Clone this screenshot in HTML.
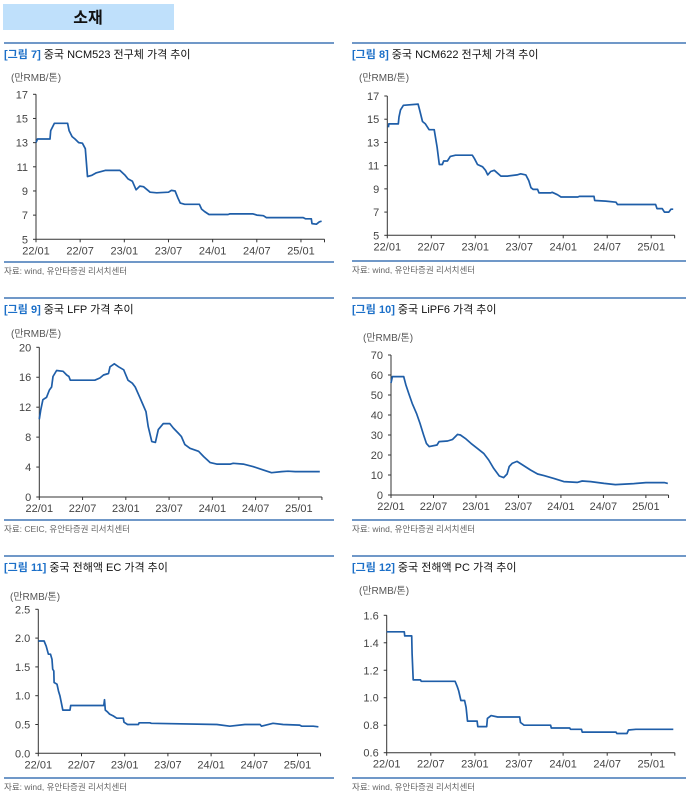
<!DOCTYPE html>
<html><head><meta charset="utf-8">
<style>
body{margin:0;background:#fff;width:688px;height:796px;overflow:hidden;font-family:"Liberation Sans","Noto Sans CJK KR",sans-serif;}
svg text{font-family:"Liberation Sans","Noto Sans CJK KR",sans-serif;}
</style></head>
<body>
<svg id="page" width="688" height="796" viewBox="0 0 688 796" xmlns="http://www.w3.org/2000/svg">
<rect x="3" y="4" width="171" height="26" fill="#bfe0fb"/>
<text x="88" y="23" text-anchor="middle" font-size="16" font-weight="bold" fill="#111">소재</text>
</svg>
<script>
const c1Months=[0,0.2,1.9,2.0,2.5,4.3,4.5,4.9,5.3,5.8,6.3,6.7,7.0,7.6,8.2,9.4,11.4,12.1,12.5,13.1,13.6,14.1,14.6,15.5,16.4,18.0,18.4,18.9,19.3,19.6,20.2,22.2,22.5,22.9,23.5,26.1,26.3,29.5,30,30.9,31.3,36.3,36.6,37.4,37.5,38.1,38.5,38.8];
const c1Values=[13.0,13.3,13.3,14.0,14.6,14.6,14.0,13.5,13.3,13.0,12.95,12.5,10.2,10.3,10.5,10.7,10.7,10.3,10.0,9.8,9.1,9.4,9.35,8.9,8.85,8.9,9.05,9.0,8.4,8.0,7.9,7.9,7.5,7.3,7.05,7.05,7.1,7.1,7.0,6.95,6.8,6.8,6.7,6.7,6.3,6.25,6.45,6.5];
const c2Months=[0.15,0.2,1.5,1.6,1.8,2.2,4.2,4.4,4.8,5.2,5.7,6.4,6.8,7.1,7.5,7.7,8.2,8.6,9.3,11.6,11.9,12.3,13.0,13.4,13.7,14.1,14.6,15.5,16.4,17.7,18.2,18.9,19.3,19.6,19.9,20.5,20.7,22.3,22.5,23.2,23.7,26.0,26.2,28.2,28.3,29.8,31.2,31.4,36.6,36.8,37.5,37.8,38.4,38.7,39.0];
const c2Values=[14.3,14.6,14.6,15.2,15.8,16.2,16.3,15.8,14.8,14.6,14.1,14.1,12.6,11.1,11.1,11.4,11.4,11.8,11.9,11.9,11.6,11.1,10.9,10.6,10.2,10.5,10.6,10.1,10.1,10.2,10.3,10.2,9.7,9.1,8.95,8.95,8.65,8.65,8.7,8.5,8.3,8.3,8.35,8.35,8.0,7.95,7.85,7.65,7.65,7.3,7.3,7.0,7.0,7.25,7.25];
const c3Months=[0,0.2,0.5,1.0,1.4,1.7,1.9,2.4,3.3,3.8,4.1,4.3,7.7,8.4,8.9,9.6,9.8,10.4,11.0,11.7,12.3,12.9,13.3,13.9,14.3,14.8,15.1,15.6,16.1,16.5,17.2,18.1,18.6,19.3,19.7,20.2,20.9,22.1,22.8,23.7,24.6,26.5,26.9,28.3,29.7,31.1,32.2,33.6,34.5,35.5,38.9];
const c3Values=[10.4,11.6,13.0,13.3,14.3,14.7,16.1,16.9,16.8,16.3,16.1,15.6,15.6,15.9,16.3,16.5,17.4,17.8,17.4,17.0,15.6,15.2,14.7,13.4,12.5,11.4,9.4,7.4,7.3,9.0,9.8,9.8,9.2,8.5,8.1,7.0,6.5,6.1,5.4,4.6,4.4,4.4,4.5,4.4,4.05,3.6,3.25,3.4,3.45,3.4,3.4];
const c4Months=[0,0.2,1.8,2.1,2.5,3.0,3.6,4.1,4.6,5.0,5.4,6.5,6.8,8.0,8.7,9.4,9.8,10.5,11.3,12.2,13.1,13.8,14.5,15.3,15.9,16.4,16.7,17.1,17.8,18.6,19.7,20.7,21.6,23.0,24.4,26.3,27.0,28.2,30.1,31.7,34.3,36.0,38.6,39.1];
const c4Values=[56,59.2,59.2,55,50.8,45.8,40.8,35.8,30,25.8,24.2,25,26.7,27,27.8,30.3,30,28.3,25.8,23.3,20.8,17.5,13.3,9.5,8.7,10.5,14.2,15.8,16.8,15,12.5,10.5,9.7,8.3,6.7,6.3,7.0,6.7,5.8,5.2,5.7,6.2,6.2,5.8];
const c5Months=[0,0.8,1.1,1.4,1.7,1.9,2.0,2.15,2.2,2.6,2.8,3.0,3.2,3.4,4.4,4.5,9.1,9.2,9.3,9.6,9.9,10.4,10.9,11.8,11.9,12.4,13.9,14.0,15.5,15.7,24.8,26.6,28.7,30.8,31.0,32.6,34.0,36.3,36.6,38.2,38.9];
const c5Values=[1.95,1.95,1.86,1.72,1.72,1.63,1.46,1.43,1.23,1.2,1.08,1.0,0.88,0.75,0.75,0.83,0.83,0.93,0.75,0.72,0.68,0.65,0.61,0.61,0.54,0.5,0.5,0.53,0.53,0.52,0.5,0.47,0.5,0.5,0.47,0.52,0.5,0.49,0.47,0.47,0.46];
const c6Months=[0,2.4,2.45,3.4,3.45,3.6,4.6,4.7,9.3,9.6,9.8,10.1,10.6,10.8,11.0,12.3,12.4,13.6,13.7,14.2,15.1,18.1,18.2,18.7,22.3,22.4,24.9,25.0,26.5,26.6,31.2,31.3,32.7,32.9,33.9,39.0];
const c6Values=[1.48,1.48,1.45,1.45,1.32,1.13,1.13,1.12,1.12,1.08,1.05,0.98,0.98,0.93,0.83,0.83,0.79,0.79,0.85,0.87,0.86,0.86,0.82,0.8,0.8,0.78,0.78,0.77,0.77,0.75,0.75,0.74,0.74,0.765,0.77,0.77];
const c1Ticks=[5,7,9,11,13,15,17];
const c2Ticks=[5,7,9,11,13,15,17];
const c3Ticks=[0,4,8,12,16,20];
const c4Ticks=[0,10,20,30,40,50,60,70];
const c5Ticks=[0.0,0.5,1.0,1.5,2.0,2.5];
const c6Ticks=[0.6,0.8,1.0,1.2,1.4,1.6];
const xLabels=["22/01","22/07","23/01","23/07","24/01","24/07","25/01"];
const xLabelMonths=[0,6,12,18,24,30,36];

const NS="http://www.w3.org/2000/svg";
const page=document.getElementById('page');
function mk(tag,attrs,parent,text){const e=document.createElementNS(NS,tag);for(const k in attrs)e.setAttribute(k,attrs[k]);if(text!==undefined)e.textContent=text;(parent||page).appendChild(e);return e;}

function panel(cfg){
  const g=mk('g',{});
  
  
  const topRule=mk('line',{x1:cfg.px,x2:cfg.px+cfg.pw,y1:cfg.ruleTop,y2:cfg.ruleTop,stroke:'#1b5aa8','stroke-width':1.3},g);
  
  
  const title=mk('text',{x:cfg.px,y:cfg.titleY,'font-size':11,fill:'#111'},g);
  
  
  mk('tspan',{fill:'#1b6fc8','font-weight':'bold'},title,cfg.fig+' ');
  mk('tspan',{},title,cfg.title);
  const unit=mk('text',{x:cfg.ux,y:cfg.uy,'font-size':10,fill:'#555'},g,'(만RMB/톤)');
  
  
  const ticks=cfg.ticks, ymin=ticks[0], ymax=ticks[ticks.length-1];
  const yS=v=>cfg.yBot-(v-ymin)/(ymax-ymin)*(cfg.yBot-cfg.yTop);
  const xS=m=>cfg.x0+m*cfg.ppm;
  const xEnd=xS(39.2);
  const yax=mk('line',{x1:cfg.x0,x2:cfg.x0,y1:cfg.yTop,y2:cfg.yBot,stroke:'#333','stroke-width':1},g);
  
  
  const xax=mk('line',{x1:cfg.x0,x2:xEnd,y1:cfg.yBot,y2:cfg.yBot,stroke:'#333','stroke-width':1},g);
  
  
  ticks.forEach(t=>{
    mk('line',{x1:cfg.x0-3,x2:cfg.x0,y1:yS(t),y2:yS(t),stroke:'#333'},g);
    const lb=mk('text',{x:cfg.x0-8,y:yS(t)+4,'font-size':11,'text-anchor':'end',fill:'#444'},g,cfg.dec?t.toFixed(cfg.dec):String(t));
    
    
  });
  xLabelMonths.forEach((m,i)=>{
    mk('line',{x1:xS(m),x2:xS(m),y1:cfg.yBot,y2:cfg.yBot+3,stroke:'#333'},g);
    const lb=mk('text',{x:xS(m),y:cfg.yBot+15,'font-size':11,'text-anchor':'middle',fill:'#444'},g,xLabels[i]);
    
    
  });
  mk('line',{x1:xEnd,x2:xEnd,y1:cfg.yBot,y2:cfg.yBot+3,stroke:'#333'},g);
  const d=cfg.months.map((m,i)=>(i?'L':'M')+xS(m).toFixed(1)+' '+yS(cfg.values[i]).toFixed(1)).join(' ');
  const path=mk('path',{d:d,fill:'none',stroke:'#1f5ea8','stroke-width':1.7,'stroke-linejoin':'round'},g);
  
  
  const sr=mk('line',{x1:cfg.px,x2:cfg.px+cfg.pw,y1:cfg.srcRule,y2:cfg.srcRule,stroke:'#1b5aa8','stroke-width':1.3},g);
  
  
  const src=mk('text',{x:cfg.px,y:cfg.srcRule+12,'font-size':8.5,fill:'#666'},g,cfg.src);
  
  
}

panel({name:'chart-ncm523',px:4,pw:330,ruleTop:43,titleY:58,fig:'[그림 7]',title:'중국 NCM523 전구체 가격 추이',ux:11,uy:81,x0:36,ppm:7.36,yTop:94.3,yBot:239.3,ticks:c1Ticks,months:c1Months,values:c1Values,srcRule:262,src:'자료: wind, 유안타증권 리서치센터'});
panel({name:'chart-ncm622',px:352,pw:334,ruleTop:43,titleY:58,fig:'[그림 8]',title:'중국 NCM622 전구체 가격 추이',ux:359,uy:81,x0:387.3,ppm:7.33,yTop:96,yBot:235.3,ticks:c2Ticks,months:c2Months,values:c2Values,srcRule:261,src:'자료: wind, 유안타증권 리서치센터'});
panel({name:'chart-lfp',px:4,pw:330,ruleTop:298,titleY:313,fig:'[그림 9]',title:'중국 LFP 가격 추이',ux:11,uy:337,x0:39.3,ppm:7.21,yTop:347.3,yBot:497,ticks:c3Ticks,months:c3Months,values:c3Values,srcRule:520,src:'자료: CEIC, 유안타증권 리서치센터'});
panel({name:'chart-lipf6',px:352,pw:334,ruleTop:298,titleY:313,fig:'[그림 10]',title:'중국 LiPF6 가격 추이',ux:363,uy:341,x0:391,ppm:7.08,yTop:355,yBot:495,ticks:c4Ticks,months:c4Months,values:c4Values,srcRule:520,src:'자료: wind, 유안타증권 리서치센터'});
panel({name:'chart-ec',px:4,pw:330,ruleTop:556,titleY:571,fig:'[그림 11]',title:'중국 전해액 EC 가격 추이',ux:10,uy:600,x0:38.3,ppm:7.2,yTop:609.3,yBot:753.3,ticks:c5Ticks,months:c5Months,values:c5Values,dec:1,srcRule:778,src:'자료: wind, 유안타증권 리서치센터'});
panel({name:'chart-pc',px:352,pw:334,ruleTop:556,titleY:571,fig:'[그림 12]',title:'중국 전해액 PC 가격 추이',ux:359,uy:594,x0:386.7,ppm:7.35,yTop:615.3,yBot:752.7,ticks:c6Ticks,months:c6Months,values:c6Values,dec:1,srcRule:778,src:'자료: wind, 유안타증권 리서치센터'});
</script>
</body></html>
